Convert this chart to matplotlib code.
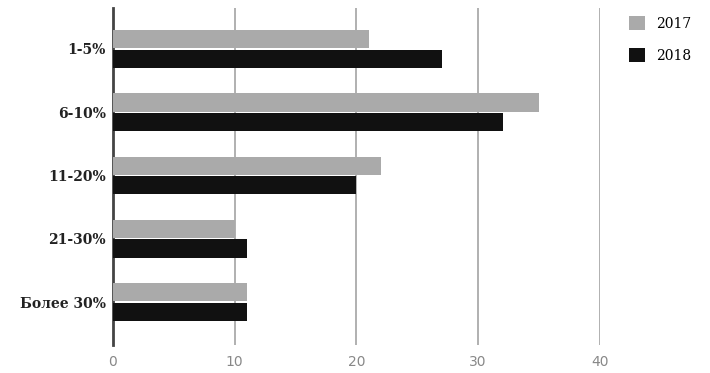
import matplotlib.pyplot as plt
import numpy as np

categories = ['1-5%', '6-10%', '11-20%', '21-30%', 'Более 30%']
values_2017 = [21, 35, 22, 10, 11]
values_2018 = [27, 32, 20, 11, 11]
series_labels = ['2017', '2018']
xticks = [0, 10, 20, 30, 40]

fig = plt.figure(figsize=(7.1, 3.73), dpi=100)
ax = fig.add_axes([0.159, 0.075, 0.686, 0.904])

y = np.arange(len(categories))
h = 0.29
ax.barh(y - h / 2 - 0.01, values_2017, height=h, color='#aaaaaa', label=series_labels[0], zorder=3)
ax.barh(y + h / 2 + 0.01, values_2018, height=h, color='#111111', label=series_labels[1], zorder=3)

ax.set_xlim(0, 40)
ax.set_ylim(4.68, -0.65)
ax.set_xticks(xticks)
ax.set_yticks(y)
ax.set_yticklabels(categories, fontfamily='DejaVu Serif', fontweight='bold', fontsize=10, color='#222222')
for lbl in ax.get_xticklabels():
    lbl.set_color('#888888')
    lbl.set_fontsize(10)
ax.tick_params(axis='both', length=0)
ax.tick_params(axis='x', pad=7)
ax.tick_params(axis='y', pad=5)

for v in xticks[1:]:
    ax.axvline(v, color='#aaaaaa', lw=1.3, zorder=1)
for s in ['top', 'right', 'bottom']:
    ax.spines[s].set_visible(False)
ax.spines['left'].set_color('#444444')
ax.spines['left'].set_linewidth(2)

leg = fig.legend(loc='upper left', bbox_to_anchor=(0.868, 0.99), frameon=False,
                 prop={'family': 'DejaVu Serif', 'size': 10}, handlelength=1.2,
                 handleheight=1.2, labelspacing=1.2)

plt.savefig('out.png', dpi=100)
